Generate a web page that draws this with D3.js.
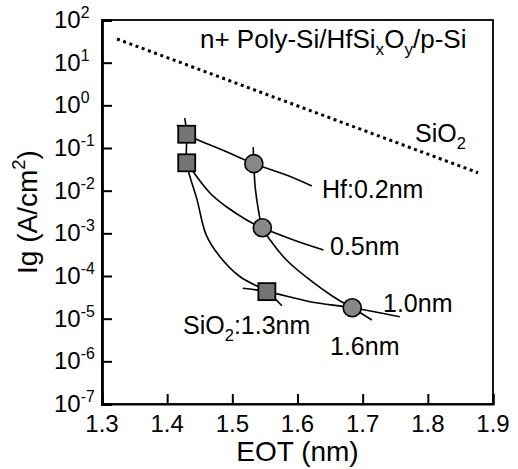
<!DOCTYPE html>
<html>
<head>
<meta charset="utf-8">
<script src="https://cdn.jsdelivr.net/npm/d3@7"></script>
<style>
  body { margin: 0; background: #fff; }
  text { font-family: "Liberation Sans", Arial, Helvetica, sans-serif; fill: #000; }
</style>
</head>
<body>
<script>
const width = 518;
const height = 469;
const margin = { top: 20, right: 25, bottom: 65, left: 102 };

// tick values
const xTicks = [1.3, 1.4, 1.5, 1.6, 1.7, 1.8, 1.9];
const yExponents = [2, 1, 0, -1, -2, -3, -4, -5, -6, -7];

// measured points, EOT (nm) vs Ig (A/cm2)
const squarePoints = [[1.43, 0.21], [1.43, 0.045], [1.553, 4.3e-5]];
const circlePoints = [[1.533, 0.043], [1.546, 1.35e-3], [1.684, 1.8e-5]];

// SiO2 reference (dotted)
const sio2Line = [[1.323, 35.9], [1.877, 0.0263]];

// constant Hf thickness curves
const hf02Curve = [[1.415, 0.346], [1.43, 0.21], [1.491, 0.082], [1.533, 0.043],
  [1.583, 0.0233], [1.622, 0.0129]];
const hf05Curve = [[1.43, 0.045], [1.466, 8.7e-3], [1.491, 4.2e-3], [1.522, 2.06e-3],
  [1.546, 1.35e-3], [1.594, 7.0e-4], [1.640, 4.07e-4]];
const hf10Curve = [[1.516, 5.15e-5], [1.553, 4.3e-5], [1.619, 2.5e-5], [1.684, 1.8e-5],
  [1.757, 1.11e-5]];

// constant SiO2 thickness curves
const sio13Curve = [[1.427, 0.5], [1.43, 0.21], [1.43, 0.045], [1.446, 6.0e-3],
  [1.46, 9.1e-4], [1.481, 2.84e-4], [1.512, 9.6e-5], [1.553, 4.3e-5], [1.576, 2.0e-5]];
const sio16Curve = [[1.532, 0.105], [1.533, 0.043], [1.535, 0.0124], [1.540, 3.52e-3],
  [1.546, 1.35e-3], [1.558, 7.0e-4], [1.583, 2.37e-4], [1.619, 8.07e-5], [1.655, 3.27e-5],
  [1.684, 1.8e-5], [1.714, 9.3e-6]];

const svg = d3.select("body").append("svg")
  .attr("width", width)
  .attr("height", height);

const x = d3.scaleLinear().domain([1.3, 1.9]).range([margin.left, width - margin.right]);
const y = d3.scaleLog().domain([1e-7, 1e2]).range([height - margin.bottom, margin.top]);

// writes text with sub/superscript parts
function richText(g, px, py, parts, size, anchor) {
  const t = g.append("text")
    .attr("x", px).attr("y", py)
    .attr("text-anchor", anchor || "start")
    .style("font-size", size + "px");
  let shift = 0;
  parts.forEach(p => {
    const s = typeof p === "string" ? { t: p } : p;
    let target = 0;
    if (s.sub) target = size * 0.28;
    if (s.sup) target = -size * 0.42;
    t.append("tspan")
      .attr("dy", target - shift)
      .style("font-size", (s.sub || s.sup) ? (size * 0.66) + "px" : null)
      .text(s.t);
    shift = target;
  });
  return t;
}

// frame
svg.append("rect")
  .attr("x", x(1.3)).attr("y", y(1e2))
  .attr("width", x(1.9) - x(1.3)).attr("height", y(1e-7) - y(1e2))
  .attr("fill", "none").attr("stroke", "#000").attr("stroke-width", 1.8);

// axes with inward ticks
svg.append("g")
  .attr("transform", `translate(0,${y(1e-7)})`)
  .call(d3.axisBottom(x).tickValues(xTicks).tickSize(-10).tickFormat(""))
  .call(g => g.select(".domain").attr("stroke-width", 2.2))
  .call(g => g.selectAll(".tick line").attr("stroke-width", 2));

svg.append("g")
  .attr("transform", `translate(${x(1.3)},0)`)
  .call(d3.axisLeft(y).tickValues(yExponents.map(e => Math.pow(10, e))).tickSize(-10).tickFormat(""))
  .call(g => g.select(".domain").attr("stroke-width", 2.8))
  .call(g => g.selectAll(".tick line").attr("stroke-width", 2));

// tick labels
xTicks.forEach(v => {
  svg.append("text")
    .attr("x", x(v)).attr("y", y(1e-7) + 28)
    .attr("text-anchor", "middle")
    .style("font-size", "24px")
    .text(d3.format(".1f")(v));
});
yExponents.forEach(e => {
  richText(svg, 54, y(Math.pow(10, e)) + 8, ["10", { t: String(e), sup: true }], 24);
});

// axis titles
svg.append("text")
  .attr("x", x(1.6)).attr("y", 461)
  .attr("text-anchor", "middle")
  .style("font-size", "28px")
  .text("EOT (nm)");
const yt = richText(svg, 0, 0, ["Ig (A/cm", { t: "2", sup: true }, ")"], 28, "middle");
yt.attr("transform", `translate(37,${y(Math.pow(10, -2.5))}) rotate(-90)`);

// curves
const line = d3.line()
  .x(d => x(d[0]))
  .y(d => y(d[1]))
  .curve(d3.curveCatmullRom.alpha(0.5));

svg.append("path")
  .attr("d", d3.line().x(d => x(d[0])).y(d => y(d[1]))(sio2Line))
  .attr("fill", "none").attr("stroke", "#000")
  .attr("stroke-width", 3).attr("stroke-dasharray", "3,3.6");

[hf02Curve, hf05Curve, hf10Curve, sio13Curve, sio16Curve].forEach(c => {
  svg.append("path")
    .attr("d", line(c))
    .attr("fill", "none").attr("stroke", "#000").attr("stroke-width", 1.6);
});

// markers
svg.selectAll(".sq").data(squarePoints).enter().append("rect")
  .attr("class", "sq")
  .attr("x", d => x(d[0]) - 8.5).attr("y", d => y(d[1]) - 8.5)
  .attr("width", 17).attr("height", 17)
  .attr("fill", "#747474").attr("stroke", "#000").attr("stroke-width", 1.8);

svg.selectAll(".ci").data(circlePoints).enter().append("circle")
  .attr("class", "ci")
  .attr("cx", d => x(d[0])).attr("cy", d => y(d[1]))
  .attr("r", 9)
  .attr("fill", "#878787").attr("stroke", "#000").attr("stroke-width", 1.6);

// annotations
richText(svg, 200, 48, ["n+ Poly-Si/HfSi", { t: "x", sub: true }, "O", { t: "y", sub: true }, "/p-Si"], 26);
richText(svg, 415, 142, ["SiO", { t: "2", sub: true }], 25);
richText(svg, 322, 198, ["Hf:0.2nm"], 25);
richText(svg, 330, 255, ["0.5nm"], 25);
richText(svg, 383, 312, ["1.0nm"], 25);
richText(svg, 183, 334, ["SiO", { t: "2", sub: true }, ":1.3nm"], 25);
richText(svg, 330, 355, ["1.6nm"], 25);
</script>
</body>
</html>
